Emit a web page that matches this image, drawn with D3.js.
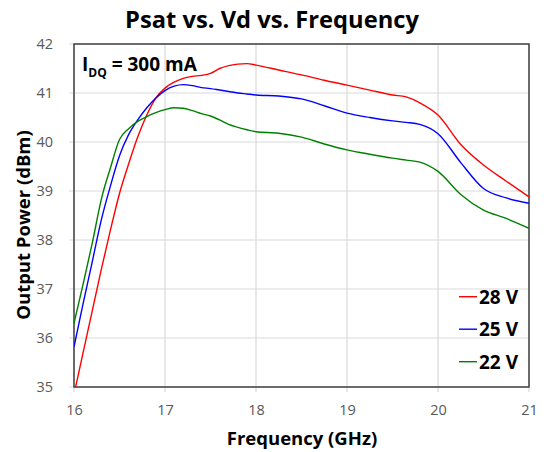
<!DOCTYPE html>
<html>
<head>
<meta charset="utf-8">
<script src="https://cdn.jsdelivr.net/npm/d3@7"></script>
<style>
  body { margin: 0; background: #fff; }
  text { font-family: "Open Sans", sans-serif; }
</style>
</head>
<body>
<script>
// Frequency grid (GHz) and output power for each drain voltage (dBm)
const freqs = [16.0, 16.1, 16.2, 16.3, 16.4, 16.5, 16.6, 16.7, 16.8, 16.9,
  17.0, 17.1, 17.2, 17.3, 17.4, 17.5, 17.6, 17.7, 17.8, 17.9,
  18.0, 18.25, 18.5, 18.75, 19.0, 19.25, 19.5, 19.65, 19.8, 20.0,
  20.25, 20.5, 20.75, 21.0];

const v28 = [34.85, 35.7, 36.55, 37.4, 38.2, 38.95, 39.55, 40.1, 40.55, 40.9,
  41.1, 41.22, 41.3, 41.34, 41.36, 41.4, 41.5, 41.56, 41.59, 41.6,
  41.57, 41.47, 41.37, 41.26, 41.16, 41.06, 40.96, 40.92, 40.8, 40.55,
  39.95, 39.53, 39.2, 38.88];

const v25 = [35.82, 36.7, 37.55, 38.41, 39.1, 39.72, 40.15, 40.45, 40.7, 40.9,
  41.05, 41.14, 41.17, 41.15, 41.11, 41.09, 41.06, 41.03, 41.0, 40.98,
  40.96, 40.94, 40.88, 40.74, 40.59, 40.5, 40.43, 40.4, 40.36, 40.17,
  39.58, 39.05, 38.86, 38.75];

const v22 = [36.3, 37.1, 37.93, 38.83, 39.47, 40.05, 40.27, 40.42, 40.52, 40.6,
  40.66, 40.7, 40.69, 40.64, 40.58, 40.53, 40.45, 40.36, 40.3, 40.25,
  40.21, 40.18, 40.1, 39.96, 39.84, 39.75, 39.67, 39.63, 39.59, 39.4,
  38.93, 38.61, 38.44, 38.24];

const seriesNames = ["28 V", "25 V", "22 V"];
const seriesColors = ["#ff0000", "#0000ff", "#008000"];
const seriesValues = [v28, v25, v22];

const xTicks = [16, 17, 18, 19, 20, 21];
const yTicks = [35, 36, 37, 38, 39, 40, 41, 42];

const W = 546, H = 452;
const margin = { top: 44, right: 17, bottom: 65, left: 74 };
const width = W - margin.left - margin.right;
const height = H - margin.top - margin.bottom;

const svg = d3.select("body").append("svg")
  .attr("width", W)
  .attr("height", H);

const g = svg.append("g")
  .attr("transform", `translate(${margin.left},${margin.top})`);

const x = d3.scaleLinear().domain([16, 21]).range([0, width]);
const y = d3.scaleLinear().domain([35, 42]).range([height, 0]);

// gridlines
g.append("g")
  .selectAll("line")
  .data(xTicks)
  .enter().append("line")
  .attr("x1", d => x(d)).attr("x2", d => x(d))
  .attr("y1", 0).attr("y2", height + 5)
  .attr("stroke", "#d9d9d9").attr("stroke-width", 1.2);

g.append("g")
  .selectAll("line")
  .data(yTicks)
  .enter().append("line")
  .attr("x1", -5).attr("x2", width)
  .attr("y1", d => y(d)).attr("y2", d => y(d))
  .attr("stroke", "#d9d9d9").attr("stroke-width", 1.2);

// axes (labels only, grid drawn above)
const xAxis = g.append("g")
  .attr("transform", `translate(0,${height})`)
  .call(d3.axisBottom(x).tickValues(xTicks).tickFormat(d3.format("d")).tickSize(0));
const yAxis = g.append("g")
  .call(d3.axisLeft(y).tickValues(yTicks).tickFormat(d3.format("d")).tickSize(0));

[xAxis, yAxis].forEach(a => {
  a.select(".domain").remove();
  a.selectAll("text")
    .attr("fill", "#595959")
    .style("font-size", "14.5px")
    .style("font-family", "'Open Sans', sans-serif");
});
xAxis.selectAll("text").attr("y", 18).attr("dy", "0.71em");
yAxis.selectAll("text").attr("x", -21);

// plot border
g.append("rect")
  .attr("width", width).attr("height", height)
  .attr("fill", "none")
  .attr("stroke", "#404040").attr("stroke-width", 1.5);

// lines
g.append("clipPath").attr("id", "clip")
  .append("rect").attr("width", width).attr("height", height);

const line = d3.line()
  .x((d, i) => x(freqs[i]))
  .y(d => y(d))
  .curve(d3.curveMonotoneX);

g.append("g").attr("clip-path", "url(#clip)")
  .selectAll("path")
  .data(seriesValues)
  .enter().append("path")
  .attr("d", line)
  .attr("fill", "none")
  .attr("stroke", (d, i) => seriesColors[i])
  .attr("stroke-width", 1.4);

// annotation
const ann = g.append("text")
  .attr("x", 8).attr("y", 27)
  .style("font-size", "19px").style("font-weight", "bold");
ann.append("tspan").text("I");
ann.append("tspan").attr("dy", 6).style("font-size", "12px").text("DQ");
ann.append("tspan").attr("dy", -6).text(" = 300 mA");

// legend
const legend = g.selectAll(".legend")
  .data(seriesNames)
  .enter().append("g")
  .attr("class", "legend")
  .attr("transform", (d, i) => `translate(${width - 70},${252.7 + i * 32.5})`);

legend.append("line")
  .attr("x1", 0).attr("x2", 18)
  .attr("stroke", (d, i) => seriesColors[i])
  .attr("stroke-width", 1.4);

legend.append("text")
  .attr("x", 20).attr("y", 7)
  .style("font-size", "19px").style("font-weight", "bold")
  .text(d => d);

// title and axis titles
svg.append("text")
  .attr("x", 272).attr("y", 28)
  .attr("text-anchor", "middle")
  .style("font-size", "23.7px").style("font-weight", "bold")
  .text("Psat vs. Vd vs. Frequency");

svg.append("text")
  .attr("x", 302).attr("y", 445)
  .attr("text-anchor", "middle")
  .style("font-size", "18.5px").style("font-weight", "bold")
  .text("Frequency (GHz)");

svg.append("text")
  .attr("transform", `translate(30,225) rotate(-90)`)
  .attr("text-anchor", "middle")
  .style("font-size", "18.5px").style("font-weight", "bold")
  .text("Output Power (dBm)");
</script>
</body>
</html>
